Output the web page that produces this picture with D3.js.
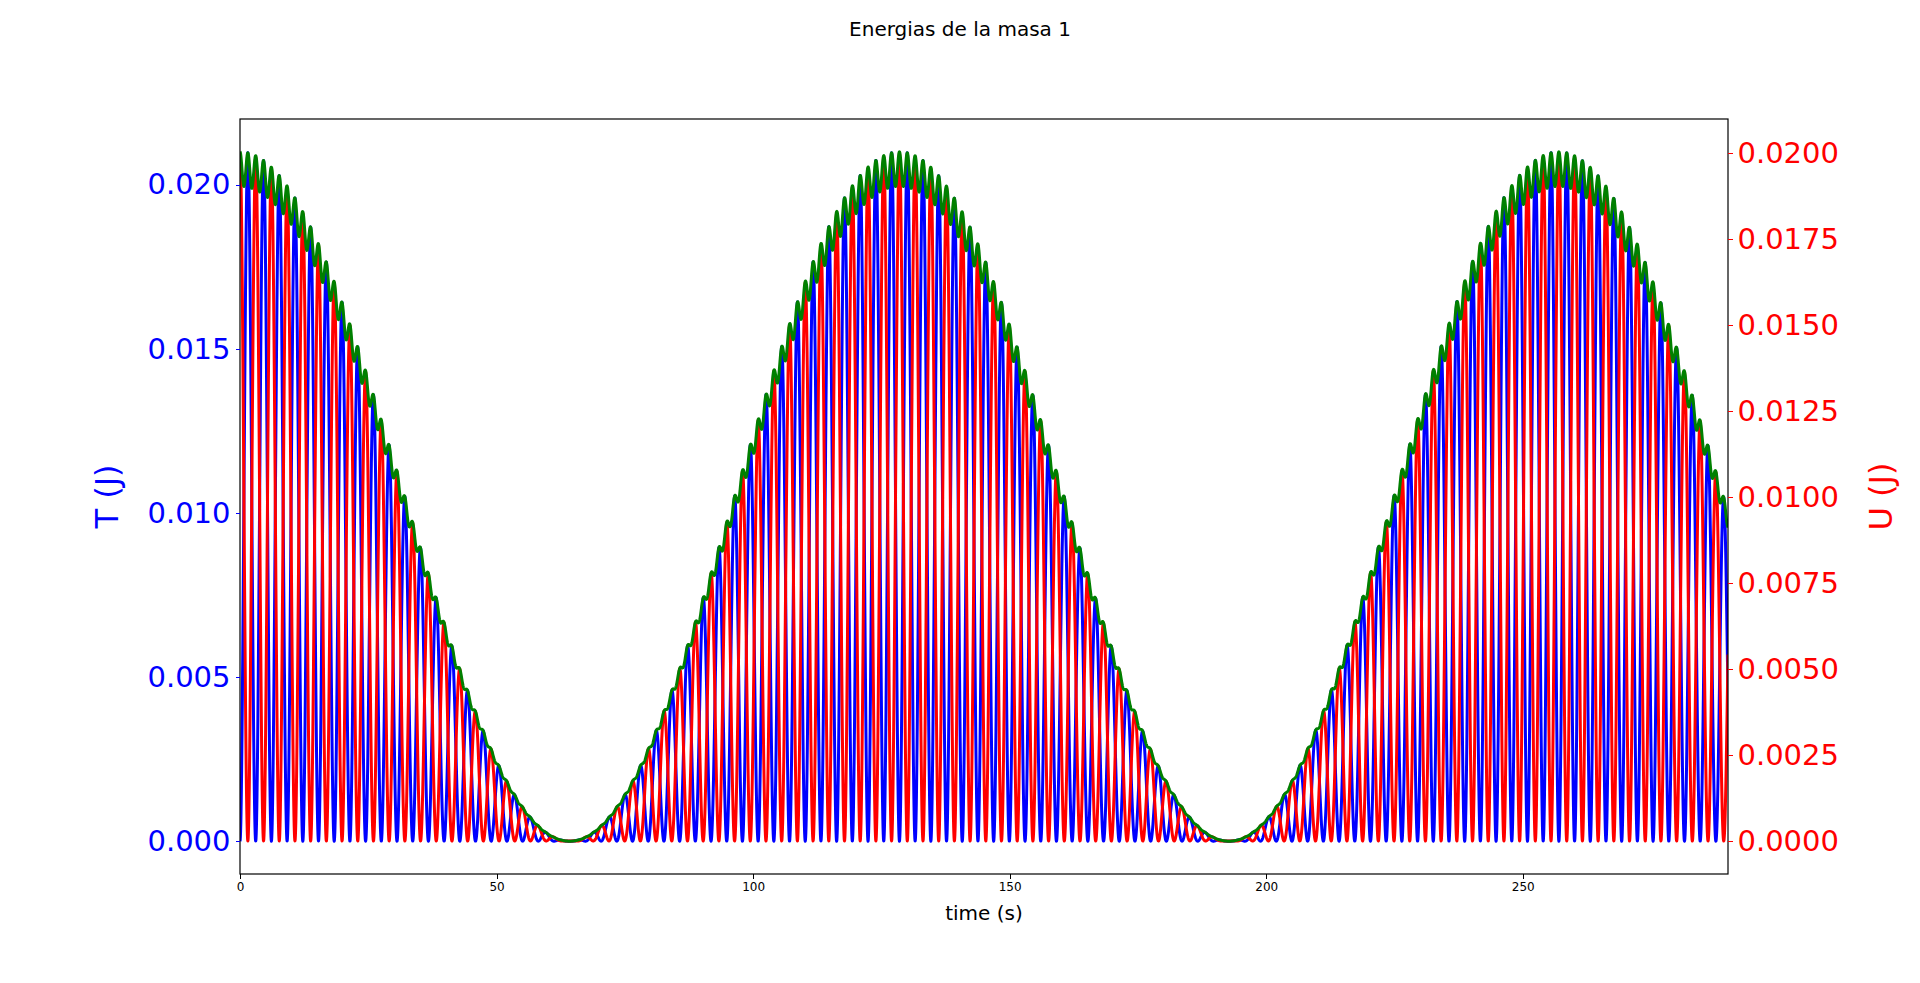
<!DOCTYPE html>
<html lang="en">
<head>
<meta charset="utf-8">
<title>Energias de la masa 1</title>
<script src="https://cdn.jsdelivr.net/npm/d3@7"></script>
<style>
  body { margin: 0; background: #fff; font-family: "DejaVu Sans", sans-serif; }
  .ax path, .ax line { shape-rendering: crispEdges; }
</style>
</head>
<body>
<div id="canvas"></div>
<script>
// values
var xTicks = [0, 50, 100, 150, 200, 250]
var tTicks = [0, 0.005, 0.010, 0.015, 0.020]
var uTicks = [0, 0.0025, 0.005, 0.0075, 0.010, 0.0125, 0.015, 0.0175, 0.020]
var timeSpan = [0, 290]          // s
var beatPeriod = [128.5]         // s, envelope repeats
var energyPeriod = [3.06]        // s, between T peaks
var peakT = [0.021]              // J
var peakU = [0.0200]             // J
var ripple = [0.05]              // dip of total between peaks

var width = 1920, height = 983
var m = {left: 240, right: 192, top: 119, bottom: 109}

var svg = d3.select("#canvas").append("svg")
  .attr("width", width).attr("height", height)

var x = d3.scaleLinear().domain(timeSpan).range([m.left, width - m.right])
var yT = d3.scaleLinear().domain([-0.001, 0.022]).range([height - m.bottom, m.top])
var yU = d3.scaleLinear().domain([-0.00096, 0.0210]).range([height - m.bottom, m.top])

// simulated samples of mass 1 energy
var samples = d3.range(timeSpan[0], timeSpan[1] + 0.001, 0.04).map(function(t) {
  var env = Math.pow(Math.cos(Math.PI * t / beatPeriod[0]), 2)
  var w = Math.PI * t / energyPeriod[0]
  var s2 = Math.pow(Math.sin(w), 2)
  return {
    t: t,
    T: peakT[0] * env * s2,
    U: peakU[0] * env * (1 - s2),
    E: peakT[0] * env * (1 - ripple[0] * Math.pow(Math.sin(2 * w), 2))
  }
})

var clip = svg.append("clipPath").attr("id", "clip").append("rect")
  .attr("x", m.left).attr("y", m.top)
  .attr("width", width - m.left - m.right).attr("height", height - m.top - m.bottom)

var g = svg.append("g").attr("clip-path", "url(#clip)")
function draw(key, scale, colour) {
  g.append("path").datum(samples)
    .attr("fill", "none").attr("stroke", colour).attr("stroke-width", 3)
    .attr("stroke-linejoin", "round")
    .attr("d", d3.line().x(function(d) { return x(d.t) }).y(function(d) { return scale(d[key]) }))
}
draw("T", yT, "#0000ff")
draw("U", yU, "#ff0000")
draw("E", yT, "#008000")

// frame
svg.append("rect").attr("x", m.left).attr("y", m.top)
  .attr("width", width - m.left - m.right).attr("height", height - m.top - m.bottom)
  .attr("fill", "none").attr("stroke", "#000").attr("stroke-width", 1.2)

var xa = svg.append("g").attr("class", "ax")
  .attr("transform", "translate(0," + (height - m.bottom) + ")")
  .call(d3.axisBottom(x).tickValues(xTicks).tickSize(4.5).tickPadding(4).tickFormat(d3.format("d")))
xa.select(".domain").remove()
xa.selectAll("text").attr("font-size", 12).attr("fill", "#000").attr("font-family", "DejaVu Sans")

var la = svg.append("g").attr("class", "ax")
  .attr("transform", "translate(" + m.left + ",0)")
  .call(d3.axisLeft(yT).tickValues(tTicks).tickSize(4.5).tickPadding(5).tickFormat(d3.format(".3f")))
la.select(".domain").remove()
la.selectAll("line").attr("stroke", "#0000ff")
la.selectAll("text").attr("font-size", 29).attr("fill", "#0000ff").attr("font-family", "DejaVu Sans")

var ra = svg.append("g").attr("class", "ax")
  .attr("transform", "translate(" + (width - m.right) + ",0)")
  .call(d3.axisRight(yU).tickValues(uTicks).tickSize(4.5).tickPadding(5).tickFormat(d3.format(".4f")))
ra.select(".domain").remove()
ra.selectAll("line").attr("stroke", "#ff0000")
ra.selectAll("text").attr("font-size", 29).attr("fill", "#ff0000").attr("font-family", "DejaVu Sans")

svg.append("text").attr("x", (m.left + width - m.right) / 2).attr("y", 920)
  .attr("text-anchor", "middle").attr("font-size", 20).text("time (s)")

svg.append("text").attr("transform", "translate(118," + (m.top + (height - m.top - m.bottom) / 2) + ") rotate(-90)")
  .attr("text-anchor", "middle").attr("font-size", 32).attr("fill", "#0000ff").text("T (J)")

svg.append("text").attr("transform", "translate(1892," + (m.top + (height - m.top - m.bottom) / 2) + ") rotate(-90)")
  .attr("text-anchor", "middle").attr("font-size", 32).attr("fill", "#ff0000").text("U (J)")

svg.append("text").attr("x", width / 2).attr("y", 36)
  .attr("text-anchor", "middle").attr("font-size", 20).text("Energias de la masa 1")
</script>
</body>
</html>
